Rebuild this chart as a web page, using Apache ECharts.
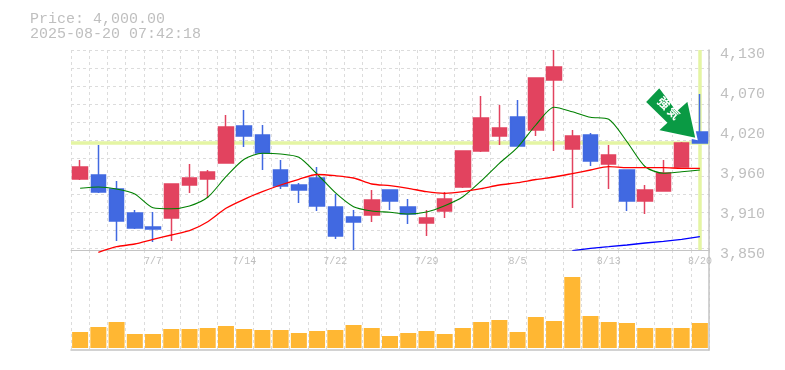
<!DOCTYPE html>
<html><head><meta charset="utf-8">
<style>html,body{margin:0;padding:0;background:#fff}#c{width:785px;height:370px}</style>
<script src="https://cdn.jsdelivr.net/npm/echarts@6/dist/echarts.min.js"></script>
</head><body><div id="c"></div>
<script>
const dates = ['7/1','7/2','7/3','7/4','7/7','7/8','7/9','7/10','7/11','7/14','7/15','7/16','7/17','7/18','7/22','7/23','7/24','7/25','7/28','7/29','7/30','7/31','8/1','8/4','8/5','8/6','8/7','8/8','8/12','8/13','8/14','8/15','8/18','8/19','8/20'];
const shownLabels = ['7/7','7/14','7/22','7/29','8/5','8/13','8/20'];
const opens  = [3949.4,3955,3935.4,3901.8,3882.2,3894.8,3941,3949.4,3971.8,4023.6,4011,3962,3941,3950.8,3910.2,3896.2,3899,3934,3910.2,3887.8,3904.6,3938.2,3988.6,4009.6,4036.2,4018,4088,3991.4,4011,3970.4,3962,3918.6,3932.6,3966.2,4015.2];
const closes = [3966.2,3931.2,3890.6,3880.8,3879.4,3942.4,3950.8,3959.2,4022.2,4009.6,3985.8,3939.6,3934,3911.6,3869.6,3889.2,3920,3918.6,3900.4,3894.8,3921.4,3988.6,4034.8,4020.8,3995.6,4090.8,4106.2,4009.6,3974.6,3983,3918.6,3934,3957.8,3999.8,3999.8];
const lows   = [3948,3929.8,3862.6,3879.4,3861.2,3862.6,3929.8,3922.8,3971.8,3994.2,3962,3935.4,3915.8,3904.6,3865.4,3850,3889.2,3906,3886.4,3869.6,3894.8,3936.8,3987.2,3997,3995.6,4009.6,3988.6,3908.8,3967.6,3935.4,3904.6,3900.4,3932.6,3966.2,3999.8];
const highs  = [3976,3997,3946.6,3906,3903.2,3942.4,3970.4,3962,4039,4046,4025,3976,3943.8,3966.2,3928.4,3906,3934,3934,3921.4,3906,3931.2,3988.6,4065.6,4053,4060,4090.8,4130,4018,4013.8,3997,3962,3941,3976,4001.2,4068.4];
const maShort = [3936.4,3938.2,3935.4,3928.4,3909.2,3907.8,3911.6,3923.8,3952.6,3977,3985.4,3984.4,3979.8,3956.4,3930.2,3910.6,3904.6,3902.8,3900.4,3903.2,3912,3924.6,3946.6,3971.4,3993.8,4025,4049.8,4043.6,4035.8,4033,4001.6,3966.6,3957.4,3959.6,3962];
const maMid = [null,3846.8,3854.6,3858.4,3865,3871,3877,3889.6,3908.4,3921,3931.6,3941,3949,3955.7,3954,3950.8,3942.4,3940,3936.4,3931.6,3929.4,3931.6,3935.8,3941,3944.2,3948.7,3952.2,3957,3962,3966.6,3965.2,3965.2,3965.2,3964.4,3964.4];
const maLong = [null,null,null,null,null,null,null,null,null,null,null,null,null,null,null,null,null,null,null,null,null,null,null,null,null,null,null,3849,3852.4,3854.6,3857,3859.8,3862.2,3865,3868.6];
const volumes = [16,21,26,14,14,19,19,20,22,19,18,18,15,17,18,23,20,12,15,17,14,20,26,28,16,31,27,71,32,26,25,20,20,20,25];
const priceTicks = [3850,3906,3962,4018,4074,4130];
const priceNow = 4000;
const titleLines = ['Price: 4,000.00','2025-08-20 07:42:18'];
const badgeText = ['強','気'];

const GREY='#bfbfbf', AXIS='#c4c4c4', GRID='#dcdcdc', MONO='"Liberation Mono","DejaVu Sans Mono",monospace';
const split={show:true,interval:0,lineStyle:{color:GRID,type:[3,3],width:1}};
const chart=echarts.init(document.getElementById('c'),null,{renderer:'canvas'});
const rows=dates.map((d,i)=>[opens[i],closes[i],lows[i],highs[i]]);
chart.setOption({
 animation:false,
 backgroundColor:'#fff',
 title:[
  {text:titleLines[0],left:30,top:12,padding:0,textStyle:{fontFamily:MONO,fontSize:15,fontWeight:'normal',color:GREY}},
  {text:titleLines[1],left:30,top:27,padding:0,textStyle:{fontFamily:MONO,fontSize:15,fontWeight:'normal',color:GREY}}
 ],
 grid:[
  {left:71,top:50,width:638,height:200},
  {left:71,top:250,width:638,height:100}
 ],
 xAxis:[
  {type:'category',gridIndex:0,data:dates,boundaryGap:true,
   axisLine:{show:true,onZero:false,lineStyle:{color:AXIS,width:1}},axisTick:{show:false},
   splitLine:split,
   axisLabel:{show:true,interval:0,hideOverlap:false,margin:6,fontFamily:MONO,fontSize:10,color:GREY,formatter:v=>shownLabels.includes(v)?v:''}},
  {type:'category',gridIndex:1,data:dates,boundaryGap:true,
   axisLine:{show:true,onZero:false,lineStyle:{color:AXIS,width:1.5}},axisTick:{show:false},
   splitLine:split,axisLabel:{show:false}}
 ],
 yAxis:[
  {type:'value',gridIndex:0,min:3850,max:4130,position:'right',
   axisLine:{show:true,lineStyle:{color:AXIS,width:1.5}},axisTick:{show:false},splitLine:{show:false},
   axisLabel:{show:true,margin:11,verticalAlign:'top',lineHeight:9,customValues:priceTicks,fontFamily:MONO,fontSize:15,color:GREY,
     formatter:v=>(Math.round(v/10)*10).toLocaleString('en-US')}},
  {type:'value',gridIndex:0,min:0,max:200/18,interval:1,inverse:true,
   axisLine:{show:false},axisTick:{show:false},axisLabel:{show:false},
   splitLine:{show:true,lineStyle:{color:GRID,type:[3,3],width:1}}},
  {type:'value',gridIndex:1,min:-2,max:98,position:'right',
   axisLine:{show:true,lineStyle:{color:AXIS,width:1.5}},axisTick:{show:false},axisLabel:{show:false},splitLine:{show:false}}
 ],
 series:[
  {type:'line',xAxisIndex:0,yAxisIndex:0,data:[],z:1,silent:true,symbol:'none',
   markLine:{silent:true,symbol:'none',label:{show:false},z:1,
    lineStyle:{color:'#e4f5a3',width:3.5,type:'solid'},
    data:[{yAxis:priceNow},{xAxis:dates[dates.length-1]}]}},
  {type:'candlestick',xAxisIndex:0,yAxisIndex:0,data:rows,barWidth:15,z:2,clip:false,
   itemStyle:{color:'#e2435f',color0:'#4169e1',borderColor:'#e2435f',borderColor0:'#4169e1',borderWidth:1.5}},
  {type:'line',xAxisIndex:0,yAxisIndex:0,data:maShort,z:3,clip:false,symbol:'none',smooth:0.25,lineStyle:{color:'#008000',width:1.1}},
  {type:'line',xAxisIndex:0,yAxisIndex:0,data:maMid,z:3,clip:false,symbol:'none',smooth:0.25,lineStyle:{color:'#ff0000',width:1.3}},
  {type:'line',xAxisIndex:0,yAxisIndex:0,data:maLong,z:3,clip:true,symbol:'none',lineStyle:{color:'#0000ff',width:1.3}},
  {type:'bar',xAxisIndex:1,yAxisIndex:2,data:volumes,barWidth:16,z:2,itemStyle:{color:'#ffb733'}}
 ],
 graphic:[
  {type:'polygon',z:20,shape:{points:[[659.3,86.7],[644.7,102],[666,122.7],[657.3,130.7],[696.5,139],[688,100],[676.7,110]]},
   style:{fill:'#0a9a44',stroke:'#fff',lineWidth:2}},
  {type:'text',z:21,x:664,y:103,rotation:-Math.PI/4,style:{text:badgeText[0],fill:'#fff',font:'bold 12px "Noto Sans CJK JP"',align:'center',verticalAlign:'middle'}},
  {type:'text',z:21,x:674,y:113,rotation:-Math.PI/4,style:{text:badgeText[1],fill:'#fff',font:'bold 12px "Noto Sans CJK JP"',align:'center',verticalAlign:'middle'}}
 ]
});
</script></body></html>
